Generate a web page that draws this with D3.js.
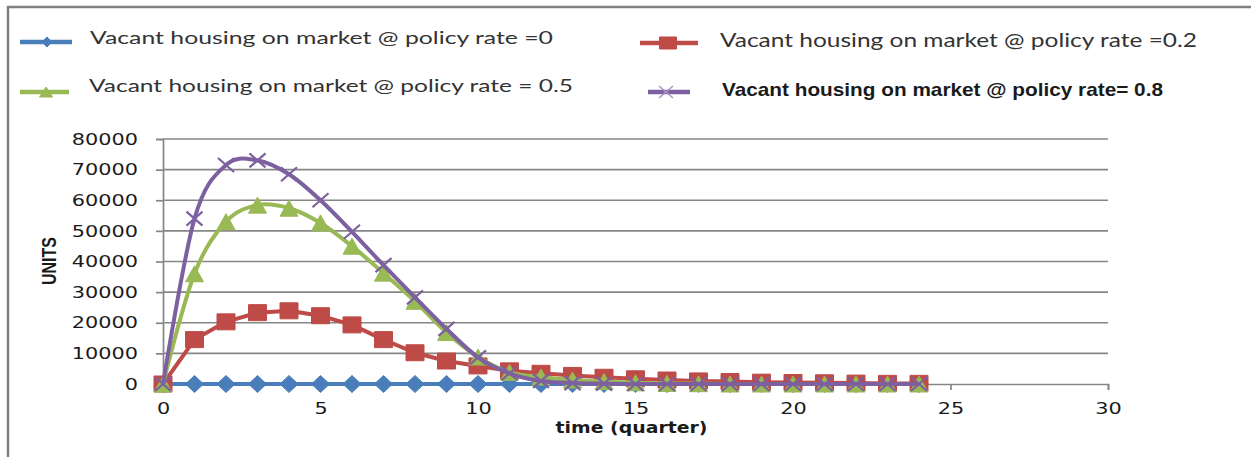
<!DOCTYPE html>
<html>
<head>
<meta charset="utf-8">
<script src="https://cdn.jsdelivr.net/npm/d3@7"></script>
<style>
  html, body { margin: 0; padding: 0; background: #fff; }
  svg { display: block; }
</style>
</head>
<body>
<svg id="chart" width="1251" height="457"></svg>
<script>
// Quarters 0..24
const quarters = d3.range(0, 25);

// Vacant housing on market (units) for each policy rate
const rate0 = [0, 0, 0, 0, 0, 0, 0, 0, 0, 0, 0, 0, 0, 0, 0, 0, 0, 0, 0, 0, 0, 0, 0, 0, 0];
const rate02 = [0, 14500, 20300, 23300, 23900, 22300, 19300, 14500, 10200, 7500, 5900, 4300, 3500, 2800, 2200, 1700, 1300, 1000, 800, 600, 500, 400, 300, 200, 200];
const rate05 = [0, 36000, 53000, 58400, 57400, 52600, 45000, 36200, 27000, 16800, 8800, 3800, 2300, 1300, 800, 400, 200, 100, 0, 0, 0, 0, 0, 0, 0];
const rate08 = [0, 54000, 71500, 73000, 68500, 60000, 49700, 38800, 28300, 18000, 8700, 3500, 1000, 300, 100, 0, 0, 0, 0, 0, 0, 0, 0, 0, 0];

const yTicks = [0, 10000, 20000, 30000, 40000, 50000, 60000, 70000, 80000];
const xTicks = [0, 5, 10, 15, 20, 25, 30];

const seriesLabels = [
  "Vacant housing on market @ policy rate =0",
  "Vacant housing on market @ policy rate =0.2",
  "Vacant housing on market @ policy rate = 0.5",
  "Vacant housing on market @ policy rate= 0.8"
];

const svg = d3.select("#chart");
const GRID = "#868686";

// stretch text horizontally by factor k
function stretch(sel, k) {
  sel.each(function () {
    const L = this.getComputedTextLength();
    d3.select(this).attr("textLength", L * k).attr("lengthAdjust", "spacingAndGlyphs");
  });
}

// outer frame (top and left edges)
svg.append("path")
  .attr("d", "M8,457 L8,7 L1251,7")
  .attr("fill", "none").attr("stroke", "#7f7f7f").attr("stroke-width", 2.5);

const x = d3.scaleLinear().domain([0, 30]).range([163, 1108]);
const y = d3.scaleLinear().domain([0, 80000]).range([384, 139]);

// horizontal gridlines
svg.append("g").selectAll("line")
  .data(yTicks.filter(d => d > 0))
  .join("line")
  .attr("x1", x(0)).attr("x2", x(30))
  .attr("y1", d => y(d)).attr("y2", d => y(d))
  .attr("stroke", GRID).attr("stroke-width", 1.7);

// y axis
const gy = svg.append("g").attr("transform", `translate(${x(0)},0)`)
  .call(d3.axisLeft(y).tickValues(yTicks).tickSize(7).tickPadding(18).tickFormat(d3.format("d")));
gy.select(".domain").attr("stroke", GRID).attr("stroke-width", 1.7);
gy.selectAll(".tick line").attr("stroke", GRID).attr("stroke-width", 1.7);
gy.selectAll(".tick text")
  .attr("font-family", "DejaVu Sans").attr("font-size", 16).attr("fill", "#1a1a1a");
stretch(gy.selectAll(".tick text"), 1.3);

// x axis
const gx = svg.append("g").attr("transform", `translate(0,${y(0)})`)
  .call(d3.axisBottom(x).tickValues(xTicks).tickSize(6).tickPadding(13).tickFormat(d3.format("d")));
gx.select(".domain").attr("stroke", GRID).attr("stroke-width", 1.7);
gx.selectAll(".tick line").attr("stroke", GRID).attr("stroke-width", 1.7);
gx.selectAll(".tick text")
  .attr("font-family", "DejaVu Sans").attr("font-size", 16).attr("fill", "#1a1a1a");
stretch(gx.selectAll(".tick text"), 1.3);

// axis titles
svg.append("text")
  .attr("x", (x(0) + x(30)) / 2 - 4).attr("y", 433)
  .attr("text-anchor", "middle")
  .attr("font-family", "DejaVu Sans").attr("font-weight", "bold").attr("font-size", 15)
  .attr("fill", "#1a1a1a")
  .attr("textLength", 152).attr("lengthAdjust", "spacingAndGlyphs")
  .text("time (quarter)");

svg.append("text")
  .attr("transform", "translate(56,261) scale(1.3,1) rotate(-90)")
  .attr("text-anchor", "middle")
  .attr("font-family", "Liberation Sans").attr("font-weight", "bold").attr("font-size", 16)
  .attr("fill", "#1a1a1a")
  .text("UNITS");

// series definitions
const series = [
  { values: rate0,  color: "#4a7ebb", marker: "diamond", curve: d3.curveLinear },
  { values: rate02, color: "#be4b48", marker: "square",  curve: d3.curveLinear },
  { values: rate05, color: "#98b954", marker: "triangle", curve: d3.curveCardinal.tension(0) },
  { values: rate08, color: "#7d60a0", marker: "cross",   curve: d3.curveCardinal.tension(0) }
];

// marker path centred on 0,0 (w = width, h = height)
function markerPath(type, w, h) {
  const a = w / 2, b = h / 2;
  switch (type) {
    case "diamond": return `M0,${-b}L${a},0L0,${b}L${-a},0Z`;
    case "square": return `M${-a},${-b}H${a}V${b}H${-a}Z`;
    case "triangle": return `M0,${-b}L${a},${b}H${-a}Z`;
    case "cross": return `M${-a},${-b}L${a},${b}M${a},${-b}L${-a},${b}`;
  }
}
const markerSize = { diamond: [18, 17], square: [18, 16], triangle: [18, 16], cross: [16, 14] };

const plot = svg.append("g");
series.forEach(s => {
  const pts = quarters.map((q, i) => [q, s.values[i]]);
  const line = d3.line().x(d => x(d[0])).y(d => y(d[1])).curve(s.curve);
  const g = plot.append("g");
  g.append("path").datum(pts)
    .attr("d", line)
    .attr("fill", "none").attr("stroke", s.color).attr("stroke-width", 4)
    .attr("stroke-linejoin", "round").attr("stroke-linecap", "round");
  const [mw, mh] = markerSize[s.marker];
  g.selectAll("path.mk").data(pts).join("path").attr("class", "mk")
    .attr("transform", d => `translate(${x(d[0])},${y(d[1])})`)
    .attr("d", markerPath(s.marker, mw, mh))
    .attr("fill", s.marker === "cross" ? "none" : s.color)
    .attr("stroke", s.color)
    .attr("stroke-width", s.marker === "cross" ? 2.2 : 1);
});

// legend
const legendItems = [
  { lx1: 20, lx2: 72, ly: 42, mx: 47, tx: 90, ty: 44, w: 463, bold: false, size: 18 },
  { lx1: 640, lx2: 698, ly: 43, mx: 668, tx: 720, ty: 47, w: 477, bold: false, size: 19 },
  { lx1: 20, lx2: 69, ly: 92, mx: 46, tx: 89, ty: 92, w: 484, bold: false, size: 18 },
  { lx1: 648, lx2: 690, ly: 92, mx: 666, tx: 722, ty: 96, w: 441, bold: true, size: 19 }
];
const legendMarker = { diamond: [10, 10], square: [17, 12], triangle: [13, 10], cross: [14, 12] };

const leg = svg.append("g");
legendItems.forEach((it, i) => {
  const s = series[i];
  leg.append("line")
    .attr("x1", it.lx1).attr("x2", it.lx2).attr("y1", it.ly).attr("y2", it.ly)
    .attr("stroke", s.color).attr("stroke-width", 4.5);
  const [mw, mh] = legendMarker[s.marker];
  leg.append("path")
    .attr("transform", `translate(${it.mx},${it.ly})`)
    .attr("d", markerPath(s.marker, mw, mh))
    .attr("fill", s.marker === "cross" ? "none" : s.color)
    .attr("stroke", s.marker === "cross" ? "#a894c4" : s.color)
    .attr("stroke-width", s.marker === "cross" ? 1.5 : 1);
  leg.append("text")
    .attr("x", it.tx).attr("y", it.ty)
    .attr("font-family", it.bold ? "Liberation Sans" : "Lato")
    .attr("font-weight", it.bold ? "bold" : "normal")
    .attr("font-size", it.size)
    .attr("fill", it.bold ? "#1a1a1a" : "#333")
    .attr("textLength", it.w).attr("lengthAdjust", "spacingAndGlyphs")
    .text(seriesLabels[i]);
});
</script>
</body>
</html>
